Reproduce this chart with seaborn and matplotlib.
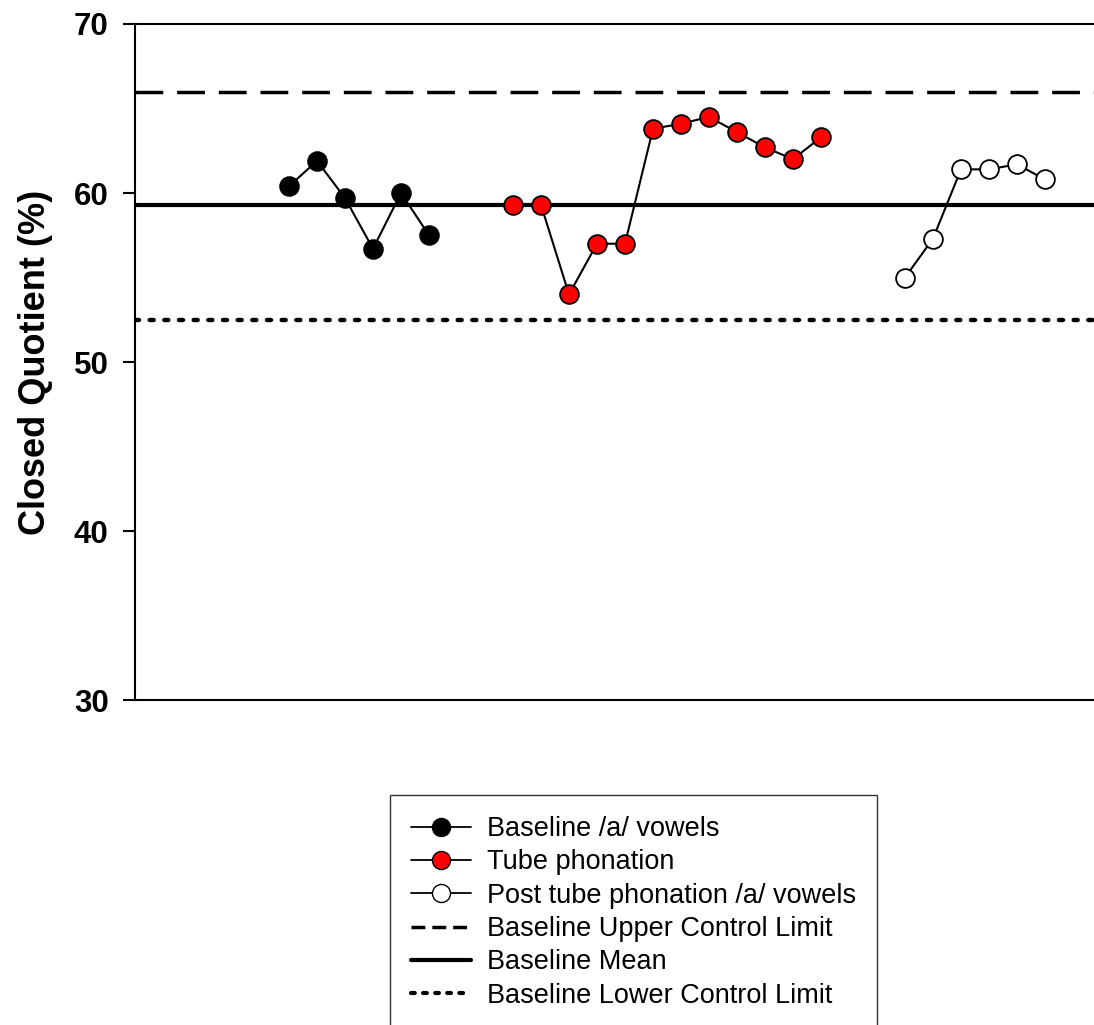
import pandas as pd
import matplotlib
matplotlib.use('Agg')
import matplotlib.pyplot as plt
import seaborn as sns
from matplotlib.lines import Line2D

# session numbers along the hidden x axis
baseline_x = [1, 2, 3, 4, 5, 6]
baseline_cq = [60.4, 61.9, 59.7, 56.7, 60.0, 57.5]

tube_x = [9, 10, 11, 12, 13, 14, 15, 16, 17, 18, 19, 20]
tube_cq = [59.3, 59.3, 54.0, 57.0, 57.0, 63.8, 64.1, 64.5, 63.6, 62.7, 62.0, 63.3]

post_x = [23, 24, 25, 26, 27, 28]
post_cq = [55.0, 57.3, 61.4, 61.4, 61.7, 60.8]

upper_limit = 66.0
baseline_mean = 59.3
lower_limit = 52.5

sns.set_theme(style='white')
plt.rcParams['font.family'] = ['Liberation Sans', 'DejaVu Sans']
plt.rcParams['text.color'] = 'black'
plt.rcParams['axes.labelcolor'] = 'black'
plt.rcParams['ytick.color'] = 'black'
plt.rcParams['xtick.color'] = 'black'

fig = plt.figure(figsize=(10.94, 10.25), dpi=100)
ax = fig.add_axes([0.1234, 0.317, 0.8766, 0.6596])

dash_style = (0, (8, 4))
dot_style = (0, (0.9, 2.4))

# control lines
ax.axhline(upper_limit, color='black', lw=2.5, ls=dash_style)
ax.axhline(baseline_mean, color='black', lw=3)
ax.axhline(lower_limit, color='black', lw=3.2, ls=dot_style, dash_capstyle='round')

groups = [
    (baseline_x, baseline_cq, 'black'),
    (tube_x, tube_cq, 'red'),
    (post_x, post_cq, 'white'),
]
for xs, ys, face in groups:
    df = pd.DataFrame({'session': xs, 'cq': ys})
    sns.lineplot(data=df, x='session', y='cq', ax=ax, color='black', lw=1.5,
                 marker='o', markersize=13.5, markerfacecolor=face,
                 markeredgecolor='black', markeredgewidth=1.3, zorder=3)

ax.set_xlim(-4.5, 29.75)
ax.set_ylim(30, 70)
ax.set_yticks([30, 40, 50, 60, 70])
ax.set_xticks([])
ax.set_xlabel('')
ax.set_ylabel('Closed Quotient (%)', fontsize=26, fontweight='bold', labelpad=15)
ax.tick_params(axis='y', which='major', direction='out', length=9, width=1.5,
               left=True, labelsize=22.5, pad=10)
for lbl in ax.get_yticklabels():
    lbl.set_fontweight('bold')

for side in ['left', 'top', 'bottom']:
    ax.spines[side].set_color('black')
    ax.spines[side].set_linewidth(1.5)
ax.spines['right'].set_visible(False)

handles = [
    Line2D([], [], color='black', lw=1.3, marker='o', markersize=13,
           markerfacecolor='black', markeredgecolor='black'),
    Line2D([], [], color='black', lw=1.3, marker='o', markersize=13,
           markerfacecolor='red', markeredgecolor='black'),
    Line2D([], [], color='black', lw=1.3, marker='o', markersize=13,
           markerfacecolor='white', markeredgecolor='black'),
    Line2D([], [], color='black', lw=2.5, ls=(0, (4, 2))),
    Line2D([], [], color='black', lw=3),
    Line2D([], [], color='black', lw=3, ls=(0, (0.9, 2.0)), dash_capstyle='round'),
]
labels = ['Baseline /a/ vowels', 'Tube phonation', 'Post tube phonation /a/ vowels',
          'Baseline Upper Control Limit', 'Baseline Mean', 'Baseline Lower Control Limit']
leg = fig.legend(handles, labels, loc='upper left', bbox_to_anchor=(0.3565, 0.2244),
                 fontsize=19.5, frameon=True, fancybox=False, edgecolor='black',
                 handlelength=2.2, handletextpad=0.6, labelspacing=0.27,
                 borderpad=0.78, borderaxespad=0)
leg.get_frame().set_linewidth(1.0)

fig.savefig('out.png', dpi=100)
